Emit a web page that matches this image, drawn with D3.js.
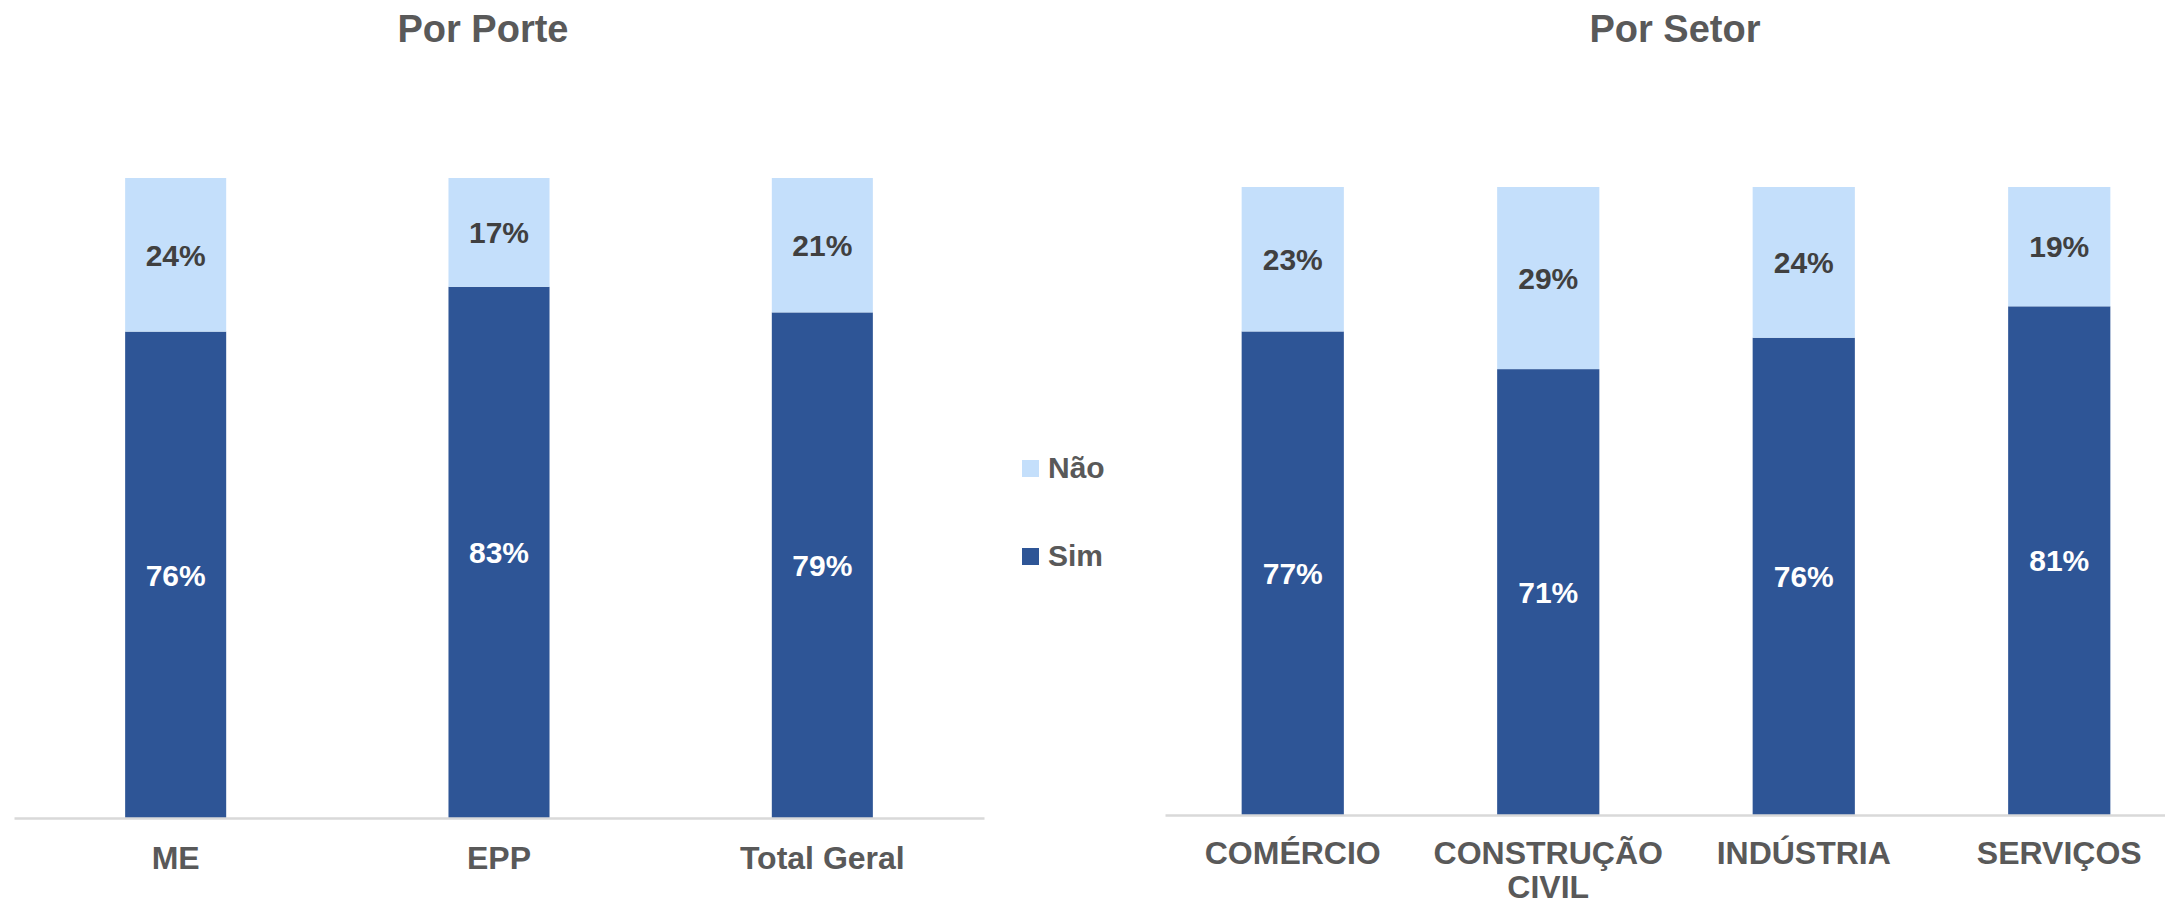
<!DOCTYPE html>
<html>
<head>
<meta charset="utf-8">
<script src="https://cdn.jsdelivr.net/npm/d3@7"></script>
<style>
  body { margin: 0; background: #fff; }
  svg text { font-family: "Liberation Sans", Arial, sans-serif; font-weight: bold; }
</style>
</head>
<body>
<svg id="chart" width="2165" height="906"></svg>
<script>
// data
var porteCats = ["ME", "EPP", "Total Geral"];
var porteSim = [0.76, 0.83, 0.79];
var porteNao = [0.24, 0.17, 0.21];

var setorCats = ["COMÉRCIO", "CONSTRUÇÃO CIVIL", "INDÚSTRIA", "SERVIÇOS"];
var setorSim = [0.77, 0.71, 0.76, 0.81];
var setorNao = [0.23, 0.29, 0.24, 0.19];

var seriesNames = ["Sim", "Não"];
var colors = { "Sim": "#2E5596", "Não": "#C4DFFB" };
var labelColors = { "Sim": "#FFFFFF", "Não": "#404040" };

var svg = d3.select("#chart");

function drawPanel(opts) {
  var rows = opts.cats.map(function(c, i) {
    return { cat: c, "Sim": opts.sim[i], "Não": opts.nao[i] };
  });
  var stacked = d3.stack().keys(seriesNames)(rows);

  var x = d3.scaleBand().domain(opts.cats).range(opts.xRange).padding(0);
  var y = d3.scaleLinear().domain([0, 1]).range([opts.y0, opts.y1]);
  var barW = x.bandwidth() * opts.barFrac;

  var g = svg.append("g");

  var layers = g.selectAll("g.layer").data(stacked).enter()
    .append("g").attr("class", "layer")
    .attr("fill", function(d) { return colors[d.key]; });

  layers.selectAll("rect").data(function(d) { return d; }).enter()
    .append("rect")
    .attr("x", function(d) { return x(d.data.cat) + (x.bandwidth() - barW) / 2; })
    .attr("width", barW)
    .attr("y", function(d) { return y(d[1]); })
    .attr("height", function(d) { return y(d[0]) - y(d[1]); });

  // value labels
  stacked.forEach(function(layer) {
    g.selectAll(null).data(layer).enter()
      .append("text")
      .attr("x", function(d) { return x(d.data.cat) + x.bandwidth() / 2; })
      .attr("y", function(d) { return (y(d[0]) + y(d[1])) / 2; })
      .attr("dy", "0.36em")
      .attr("text-anchor", "middle")
      .attr("font-size", 30)
      .attr("fill", labelColors[layer.key])
      .text(function(d) { return Math.round((d[1] - d[0]) * 100) + "%"; });
  });

  // category axis
  var axis = g.append("g")
    .attr("transform", "translate(0," + opts.y0 + ")")
    .call(d3.axisBottom(x).tickSize(0).tickPadding(0));
  axis.select(".domain").attr("stroke", "#D9D9D9").attr("stroke-width", 2.5);
  axis.selectAll(".tick text").remove();
  axis.selectAll(".tick").each(function(d) {
    var words = d.split(" ");
    var lines = (words.length > 1 && d.length > 12) ? [words.slice(0, -1).join(" "), words[words.length - 1]] : [d];
    var t = d3.select(this).append("text")
      .attr("text-anchor", "middle")
      .attr("font-size", 32)
      .attr("fill", "#595959");
    lines.forEach(function(line, i) {
      t.append("tspan").attr("x", 0).attr("y", opts.labelDy + i * 34).text(line);
    });
  });

  // title
  svg.append("text")
    .attr("x", opts.titleX)
    .attr("y", 42)
    .attr("text-anchor", "middle")
    .attr("font-size", 38)
    .attr("fill", "#595959")
    .text(opts.title);
}

drawPanel({
  title: "Por Porte", titleX: 483,
  cats: porteCats, sim: porteSim, nao: porteNao,
  xRange: [14, 984], y0: 818, y1: 178, barFrac: 0.3125, labelDy: 51
});

drawPanel({
  title: "Por Setor", titleX: 1675,
  cats: setorCats, sim: setorSim, nao: setorNao,
  xRange: [1165, 2187], y0: 815, y1: 187, barFrac: 0.4, labelDy: 49
});

// legend
var legend = svg.append("g").attr("transform", "translate(1022,0)");
var legendItems = [{ key: "Não", y: 460 }, { key: "Sim", y: 548 }];
legendItems.forEach(function(item) {
  legend.append("rect")
    .attr("x", 0).attr("y", item.y)
    .attr("width", 17).attr("height", 17)
    .attr("fill", colors[item.key]);
  legend.append("text")
    .attr("x", 26).attr("y", item.y + 18)
    .attr("font-size", 30)
    .attr("fill", "#595959")
    .text(item.key);
});
</script>
</body>
</html>
